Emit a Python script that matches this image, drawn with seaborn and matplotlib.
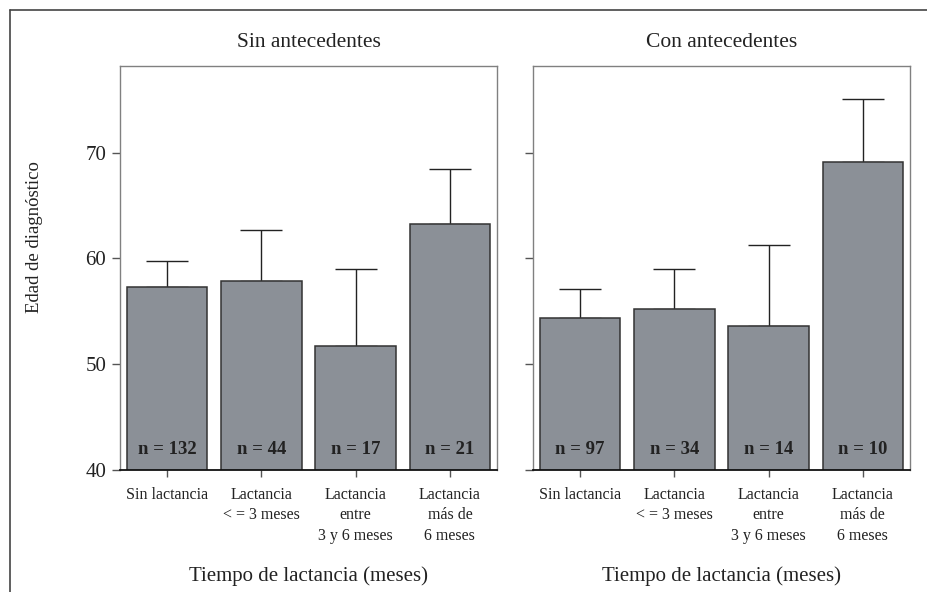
import numpy as np
import pandas as pd
import matplotlib
matplotlib.use("Agg")
import matplotlib.pyplot as plt
import seaborn as sns
from matplotlib.lines import Line2D

# Datos (media de edad de diagnostico, limite superior del error, n)
categorias = ["Sin lactancia", "Lactancia\n< = 3 meses",
              "Lactancia\nentre\n3 y 6 meses", "Lactancia\nmás de\n6 meses"]
paneles = ["Sin antecedentes", "Con antecedentes"]

media_sin = [57.3, 57.9, 51.7, 63.3]
sup_sin = [59.8, 62.7, 59.0, 68.5]
n_sin = [132, 44, 17, 21]

media_con = [54.4, 55.2, 53.6, 69.1]
sup_con = [57.1, 59.0, 61.3, 75.1]
n_con = [97, 34, 14, 10]

sns.set_style("white")
plt.rcParams["font.family"] = ["Liberation Serif", "DejaVu Serif"]

color_barra = "#8b9097"

fig = plt.figure(figsize=(9.27, 5.92), dpi=100)
W, H = 927, 592
ax1 = fig.add_axes([120 / W, 1 - 470 / H, 377 / W, 404 / H])
ax2 = fig.add_axes([533 / W, 1 - 470 / H, 377 / W, 404 / H])

datos = [(media_sin, sup_sin, n_sin), (media_con, sup_con, n_con)]

for i, (ax, panel, (media, sup, n)) in enumerate(zip([ax1, ax2], paneles, datos)):
    df = pd.DataFrame({"cat": categorias, "edad": media})
    sns.barplot(data=df, x="cat", y="edad", ax=ax, color=color_barra,
                saturation=1, width=0.855, edgecolor="#333333", linewidth=1.1,
                errorbar=None, zorder=2)
    x = np.arange(len(categorias))
    err = np.array(sup) - np.array(media)
    ax.errorbar(x, media, yerr=[np.zeros(len(x)), err], fmt="none",
                ecolor="#222222", elinewidth=1.0, capsize=15, capthick=1.0, zorder=1)
    for xi, ni in zip(x, n):
        ax.text(xi, 41.9, f"n = {ni}", ha="center", va="center",
                fontsize=13.5, fontweight="bold", color="#222222", zorder=3)

    ax.set_ylim(40, 78.2)
    ax.set_xlim(-0.5, 3.5)
    ax.set_yticks([40, 50, 60, 70])
    ax.set_title(panel, fontsize=15.5, pad=14, color="#222222")
    ax.set_xlabel("Tiempo de lactancia (meses)", fontsize=15, labelpad=16, color="#222222")
    ax.set_ylabel("")
    ax.tick_params(axis="y", length=6, width=1, color="#555555", pad=4,
                   labelsize=15, labelcolor="#222222", left=True)
    ax.tick_params(axis="x", length=5, width=1, color="#555555", pad=7,
                   labelsize=11.5, labelcolor="#222222", bottom=True)
    for etiqueta in ax.get_xticklabels():
        etiqueta.set_linespacing(1.4)
    for lado in ["left", "top", "right"]:
        ax.spines[lado].set_color("#808080")
        ax.spines[lado].set_linewidth(1.0)
    ax.spines["bottom"].set_color("#111111")
    ax.spines["bottom"].set_linewidth(1.3)
    if i == 1:
        ax.set_yticklabels([])

fig.text(35 / W, 1 - 237 / H, "Edad de diagnóstico", rotation=90,
         ha="center", va="center", fontsize=13.5, color="#222222")

# marco exterior (solo arriba e izquierda visibles)
fig.add_artist(Line2D([10 / W, 1], [1 - 10 / H, 1 - 10 / H], color="#444444", lw=1.2))
fig.add_artist(Line2D([10 / W, 10 / W], [0, 1 - 10 / H], color="#444444", lw=1.2))

fig.savefig("out.png", dpi=100)
